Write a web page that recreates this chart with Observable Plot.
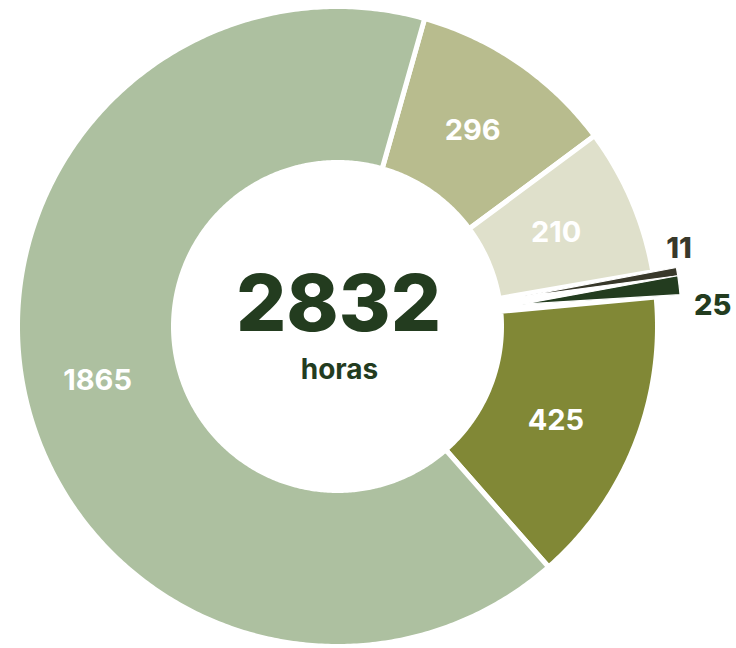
<!DOCTYPE html>
<html>
<head>
<meta charset="utf-8">
<script src="https://cdn.jsdelivr.net/npm/d3@7"></script>
<script src="https://cdn.jsdelivr.net/npm/@observablehq/plot@0.6"></script>
<style>
  html, body { margin: 0; padding: 0; background: #fff; }
  #chart { width: 736px; height: 648px; }
  svg { font-family: Inter, "Open Sans", sans-serif; }
</style>
</head>
<body>
<div id="chart"></div>
<script>
// Data (clockwise from the 1865/296 boundary)
const labels = ["296", "210", "11", "25", "425", "1865"];
const values = [296, 210, 11, 25, 425, 1865];
const colors = ["#b8bc8e", "#dfe0cb", "#38382a", "#233c1f", "#818836", "#adc0a0"];
const totalLabel = "2832";
const unitLabel = "horas";
const smallSlices = ["11", "25"];

const W = 736, H = 648;
const cx = 337, cy = 326;
const Rout = 320, Rin = 164;
const startAngle = 15.8 * Math.PI / 180;

const arcs = d3.pie().sort(null).startAngle(startAngle).endAngle(startAngle + 2 * Math.PI)(values);

const pt = (a, r) => ({x: r * Math.sin(a), y: r * Math.cos(a)});

const mainPts = [], smallPts = [], textData = [], outerText = [];
arcs.forEach((arc, i) => {
  const key = labels[i];
  const a0 = arc.startAngle, a1 = arc.endAngle, mid = (a0 + a1) / 2;
  const n = Math.max(4, Math.ceil((a1 - a0) / 0.01));
  if (smallSlices.includes(key)) {
    smallPts.push({key, ...pt(mid, 186)});
    for (let k = 0; k <= n; k++) smallPts.push({key, ...pt(a0 + (a1 - a0) * k / n, 344)});
    const lr = key === "11" ? 333 : 359;
    const p = pt(mid, lr);
    outerText.push({key, x: p.x, y: p.y, color: colors[i]});
  } else {
    for (let k = 0; k <= n; k++) mainPts.push({key, ...pt(a0 + (a1 - a0) * k / n, Rout)});
    for (let k = n; k >= 0; k--) mainPts.push({key, ...pt(a0 + (a1 - a0) * k / n, Rin)});
    const lr = key === "1865" ? 246 : 238;
    const p = pt(mid + (key === "425" ? 0.03 : 0), lr);
    textData.push({key, x: p.x, y: p.y});
  }
});

const chart = Plot.plot({
  width: W,
  height: H,
  margin: 0,
  x: {domain: [-cx, W - cx], axis: null},
  y: {domain: [cy - H, cy], axis: null},
  color: {domain: labels, range: colors},
  marks: [
    Plot.line(mainPts, {x: "x", y: "y", z: "key", fill: "key", stroke: "white", strokeWidth: 5, curve: "linear-closed"}),
    Plot.line(smallPts, {x: "x", y: "y", z: "key", fill: "key", stroke: "white", strokeWidth: 1.2, curve: "linear-closed"}),
    Plot.text(textData, {x: "x", y: "y", text: "key", fill: "white", fontSize: 29, fontWeight: 700, letterSpacing: 1}),
    Plot.text(outerText.filter(d => d.key === "11"), {x: "x", y: "y", text: "key", fill: "color", dy: -25, textAnchor: "start", fontSize: 29, fontWeight: 800}),
    Plot.text(outerText.filter(d => d.key === "25"), {x: "x", y: "y", text: "key", fill: "color", dy: 22, textAnchor: "start", fontSize: 29, fontWeight: 800}),
    Plot.text([totalLabel], {x: () => 1, y: () => 21, text: d => d, fill: "#233c1f", fontSize: 79, fontWeight: 800}),
    Plot.text([unitLabel], {x: () => 2, y: () => -44, text: d => d, fill: "#233c1f", fontSize: 28, fontWeight: 700, letterSpacing: 1})
  ]
});
document.getElementById("chart").appendChild(chart);
</script>
</body>
</html>
